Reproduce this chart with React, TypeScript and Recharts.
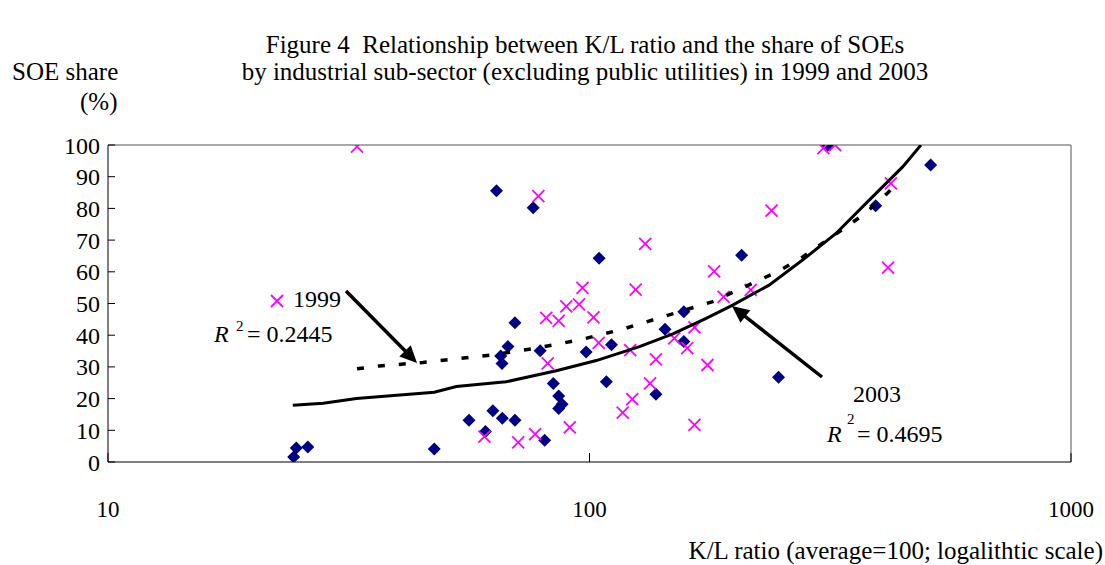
import React from 'react';
import { ScatterChart, Scatter, XAxis, YAxis, ReferenceLine } from 'recharts';

// K/L ratio (average = 100) and SOE share (%)
const kl1999 = [32.9, 78.3, 130.5, 238.8, 181.5, 96.7, 124.7, 89.5, 95.1, 81.3, 86.3, 101.9, 189.9, 216.2, 104.5, 165.2, 150.0,
  159.6, 121.5, 81.9, 137.4, 175.8, 133.6, 122.7, 117.2, 165.2, 91.0, 60.5, 71.1, 77.1, 305.9, 323.6, 422.6, 417.0];
const soe1999 = [99.5, 83.9, 68.8, 79.3, 60.1, 54.9, 54.4, 49.1, 49.7, 45.5, 44.5, 45.6, 52.1, 54.3, 37.6, 42.5, 39.0,
  35.9, 35.3, 31.1, 32.4, 30.6, 24.8, 19.8, 15.6, 11.7, 10.9, 8.0, 6.2, 8.8, 99.0, 100.0, 87.9, 61.3];

const kl2003 = [24.3, 24.6, 26.0, 47.6, 64.1, 76.4, 104.7, 207.0, 70.0, 157.0, 67.7, 65.4, 65.8, 79.0, 98.4, 111.1, 143.5,
  157.0, 84.1, 108.4, 86.3, 87.7, 86.3, 137.4, 63.0, 56.2, 65.9, 70.0, 60.8, 80.7, 312.0, 511.0, 393.0, 247.0];
const soe2003 = [1.6, 4.4, 4.7, 4.1, 85.6, 80.2, 64.3, 65.2, 43.9, 47.4, 36.4, 33.4, 31.1, 35.1, 34.7, 37.0, 41.9,
  38.0, 24.8, 25.3, 20.8, 18.2, 16.9, 21.4, 16.2, 13.2, 13.8, 13.2, 9.6, 6.9, 99.8, 93.7, 80.8, 26.7];

// trend lines as they appear in the figure
const trendKl1999 = [32.9, 36.6, 45.1, 52.0, 63.0, 77.4, 95.3, 117.2, 144.2, 180.3, 221.7, 245.5, 275, 338, 375, 415.6, 422];
const trendSoe1999 = [29.4, 30.3, 31.4, 32.4, 33.8, 35.9, 38.5, 41.9, 46.1, 50.6, 56.9, 60.0, 64.3, 73.7, 78.6, 84.8, 85.8];
const trendKl2003 = [24.2, 28.0, 32.8, 47.6, 52.9, 67.1, 85.3, 103.3, 127, 149, 174.7, 198.3, 236, 277, 325, 381, 447, 488];
const trendSoe2003 = [17.9, 18.5, 20.0, 22.0, 23.8, 25.3, 28.8, 32.0, 36.4, 40.4, 45.3, 49.5, 55.8, 63.7, 72.1, 82.6, 93.1, 100];

const xTicks = [10, 100, 1000];
const yTicks = [0, 10, 20, 30, 40, 50, 60, 70, 80, 90, 100];

const pts = (xs: number[], ys: number[]) => xs.map((x, i) => ({ x, y: ys[i] }));

const FONT = '"Liberation Serif", "Times New Roman", serif';

const Diamond = (props: any) => {
  const { cx, cy } = props;
  return <path d={`M${cx},${cy - 6.5}L${cx + 6.5},${cy}L${cx},${cy + 6.5}L${cx - 6.5},${cy}Z`} fill="#000080" />;
};

const Cross = (props: any) => {
  const { cx, cy } = props;
  return (
    <path d={`M${cx - 6},${cy - 6}L${cx + 6},${cy + 6}M${cx + 6},${cy - 6}L${cx - 6},${cy + 6}`}
      stroke="#FF00FF" strokeWidth={1.8} fill="none" />
  );
};

const NoDot = () => <g />;

const Arrow = ({ x1, y1, x2, y2 }: { x1: number; y1: number; x2: number; y2: number }) => {
  const dx = x2 - x1, dy = y2 - y1;
  const len = Math.hypot(dx, dy);
  const ux = dx / len, uy = dy / len;
  const head = 17, half = 8;
  const bx = x2 - ux * head, by = y2 - uy * head;
  const p1 = `${bx - uy * half},${by + ux * half}`;
  const p2 = `${bx + uy * half},${by - ux * half}`;
  return (
    <g>
      <line x1={x1} y1={y1} x2={bx + ux * 2} y2={by + uy * 2} stroke="#000" strokeWidth={3.5} />
      <polygon points={`${x2},${y2} ${p1} ${p2}`} fill="#000" />
    </g>
  );
};

const App = () => {
  const xTickStyle = { fill: '#000', fontSize: 23, fontFamily: FONT };
  const yTickStyle = { fill: '#000', fontSize: 24, fontFamily: FONT };
  return (
    <div style={{ position: 'absolute', left: 0, top: 0, width: 1105, height: 565, background: '#fff', fontFamily: FONT }}>
      <ScatterChart width={1105} height={565} margin={{ top: 145, right: 34, bottom: 43, left: 48 }}>
        <XAxis type="number" dataKey="x" scale="log" domain={[10, 1000]} ticks={xTicks} allowDataOverflow
          height={60} tickSize={-9} tickMargin={48} interval={0}
          axisLine={{ stroke: '#000' }} tickLine={{ stroke: '#000' }} tick={xTickStyle} />
        <YAxis type="number" dataKey="y" domain={[0, 100]} ticks={yTicks} allowDataOverflow
          width={60} tickSize={-7} tickMargin={15} interval={0}
          axisLine={{ stroke: '#000' }} tickLine={{ stroke: '#000' }} tick={yTickStyle} />
        <ReferenceLine y={100} stroke="#8c8c8c" strokeWidth={1.5} />
        <ReferenceLine x={1000} stroke="#8c8c8c" strokeWidth={1.5} />
        <Scatter name="2003" data={pts(kl2003, soe2003)} shape={Diamond} isAnimationActive={false} />
        <Scatter name="1999" data={pts(kl1999, soe1999)} shape={Cross} isAnimationActive={false} />
        <Scatter data={pts(trendKl1999, trendSoe1999)} shape={NoDot} isAnimationActive={false}
          line={{ stroke: '#000', strokeWidth: 3.5, strokeDasharray: '7 14' }} />
        <Scatter data={pts(trendKl2003, trendSoe2003)} shape={NoDot} isAnimationActive={false}
          line={{ stroke: '#000', strokeWidth: 3 }} />
      </ScatterChart>
      <svg width={1105} height={565} style={{ position: 'absolute', left: 0, top: 0, pointerEvents: 'none' }}
        fontFamily={FONT} fill="#000">
        <text x={585} y={53} fontSize={25} textAnchor="middle">{'Figure 4\u00a0 Relationship between K/L ratio and the share of SOEs'}</text>
        <text x={585} y={80} fontSize={25} textAnchor="middle">by industrial sub-sector (excluding public utilities) in 1999 and 2003</text>
        <text x={12} y={80} fontSize={25}>SOE share</text>
        <text x={80} y={110} fontSize={25}>(%)</text>
        <text x={1103} y={559} fontSize={25} textAnchor="end">K/L ratio (average=100; logalithtic scale)</text>

        <path d="M271,295L283,307M283,295L271,307" stroke="#FF00FF" strokeWidth={1.8} />
        <text x={293} y={307} fontSize={24}>1999</text>
        <text x={214} y={342} fontSize={24} fontStyle="italic">R</text>
        <text x={236} y={331} fontSize={15}>2</text>
        <text x={247} y={342} fontSize={24}>= 0.2445</text>
        <Arrow x1={346} y1={291} x2={417} y2={363} />

        <text x={853} y={402} fontSize={24}>2003</text>
        <text x={827} y={442} fontSize={24} fontStyle="italic">R</text>
        <text x={847} y={424} fontSize={15}>2</text>
        <text x={857} y={442} fontSize={24}>= 0.4695</text>
        <Arrow x1={822} y1={377} x2={732} y2={306} />
      </svg>
    </div>
  );
};

export default App;
